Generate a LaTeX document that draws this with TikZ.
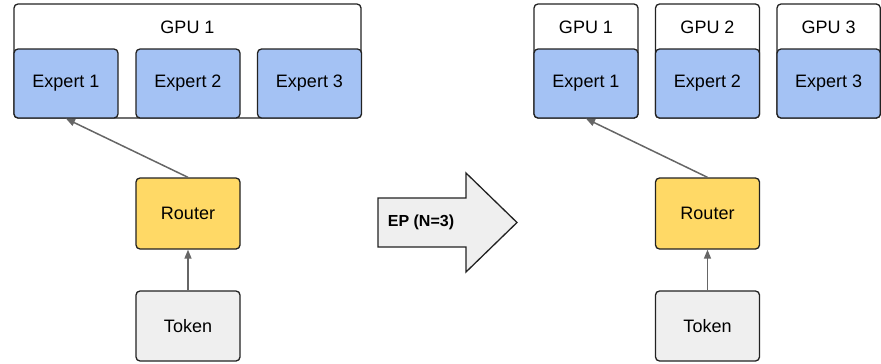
\documentclass[tikz,border=0pt]{standalone}
\usepackage{fontspec}
\setmainfont{Liberation Sans}
\usetikzlibrary{arrows.meta}
\definecolor{expertblue}{HTML}{A4C2F4}
\definecolor{routeryellow}{HTML}{FFD966}
\definecolor{tokengray}{HTML}{EFEFEF}
\definecolor{edgegray}{HTML}{666666}
\definecolor{boxline}{HTML}{222222}
\begin{document}
\begin{tikzpicture}[x=1pt,y=-1pt,
  box/.style={draw=boxline,line width=1.3pt,rounded corners=4pt,inner sep=0pt,
    font=\fontsize{18}{20}\selectfont},
  expert/.style={box,fill=expertblue,minimum width=104pt,minimum height=69pt},
  gpubox/.style={draw=boxline,line width=1.3pt,rounded corners=4pt,fill=white},
  router/.style={box,fill=routeryellow,minimum width=104pt,minimum height=71pt},
  token/.style={box,fill=tokengray,minimum width=104pt,minimum height=70pt},
  link/.style={draw=edgegray,line width=1.5pt,-{Triangle[length=9pt,width=7pt]}},
  lbl/.style={font=\fontsize{18}{20}\selectfont}]
\useasboundingbox (0,0) rectangle (881,364);

% ---- single GPU holding all experts ----
\draw[gpubox] (14,4) rectangle (361,118);
\node[lbl] (g1) at (187.5,27) {GPU 1};
\node[expert] (e1) at (66,83.5) {Expert 1};
\node[expert] (e2) at (188,83.5) {Expert 2};
\node[expert] (e3) at (309.5,83.5) {Expert 3};
\node[router] (r) at (188,213.5) {Router};
\node[token] (t) at (188,326) {Token};
\draw[link] (t) -- (r);
\draw[link] (r.north) -- (e1.south);

% ---- expert parallel arrow ----
\draw[draw=boxline,line width=1.3pt,fill=tokengray,line join=miter]
  (378,198) -- (466,198) -- (466,173) -- (517,222.5) -- (466,272) -- (466,247) -- (378,247) -- cycle;
\node[font=\bfseries\fontsize{16}{18}\selectfont] (ep) at (421,222.5) {EP (N=3)};

% ---- one expert per GPU ----
\draw[gpubox] (534,4) rectangle (638,118);
\draw[gpubox] (655.5,4) rectangle (759.5,118);
\draw[gpubox] (777,4) rectangle (880.3,118);
\node[lbl] (h1) at (586,27) {GPU 1};
\node[lbl] (h2) at (707.5,27) {GPU 2};
\node[lbl] (h3) at (828.7,27) {GPU 3};
\node[expert] (f1) at (586,83.5) {Expert 1};
\node[expert] (f2) at (707.5,83.5) {Expert 2};
\node[expert,minimum width=103.3pt] (f3) at (828.7,83.5) {Expert 3};
\node[router] (rr) at (707.5,213.5) {Router};
\node[token] (tt) at (707.5,326) {Token};
\draw[link] (tt) -- (rr);
\draw[link] (rr.north) -- (f1.south);
\end{tikzpicture}
\end{document}
